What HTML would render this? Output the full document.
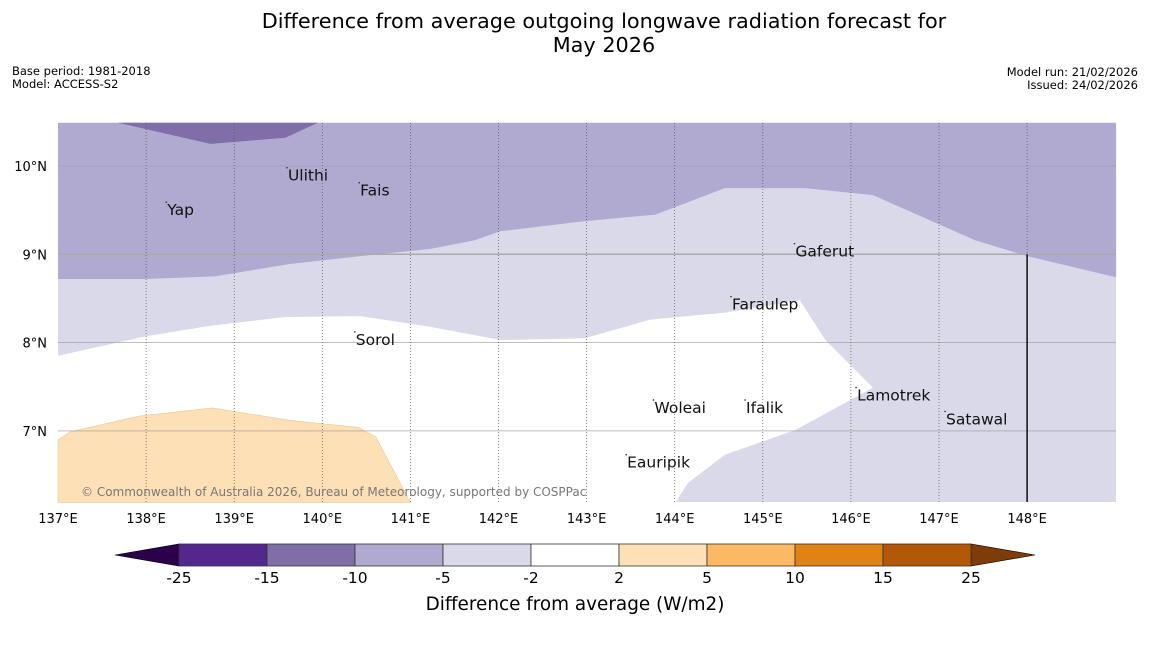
<!DOCTYPE html>
<html><head><meta charset="utf-8"><style>
body{margin:0;background:#fff;font-family:"Liberation Sans","DejaVu Sans",sans-serif}
</style></head><body>
<svg width="1150" height="644" xmlns="http://www.w3.org/2000/svg" font-family="DejaVu Sans, Liberation Sans, sans-serif">
<text x="604" y="28" font-size="20.8" text-anchor="middle">Difference from average outgoing longwave radiation forecast for</text>
<text x="604" y="52" font-size="20.8" text-anchor="middle">May 2026</text>
<text x="12" y="75" font-size="11.5">Base period: 1981-2018</text>
<text x="12" y="88" font-size="11.5">Model: ACCESS-S2</text>
<text x="1138" y="76" font-size="11.5" text-anchor="end">Model run: 21/02/2026</text>
<text x="1138" y="89" font-size="11.5" text-anchor="end">Issued: 24/02/2026</text>
<g id="map"></g>
<g id="cbar"></g>
<text x="575" y="610" font-size="18.4" text-anchor="middle">Difference from average (W/m2)</text>
</svg>
<script>
const lonTicks=[137,138,139,140,141,142,143,144,145,146,147,148];
const latTicks=[7,8,9,10];
const darkPurple=[[137.68,10.49],[138.73,10.25],[139.58,10.32],[139.95,10.49]];
const midPurpleEdge=[[137,8.72],[137.99,8.72],[138.78,8.75],[139.63,8.89],[140.43,8.98],[141.22,9.06],[141.73,9.16],[142.02,9.26],[142.93,9.37],[143.78,9.45],[144.57,9.75],[145.48,9.75],[146.25,9.67],[147.41,9.16],[148.0,8.98],[149.01,8.74]];
const whiteArea=[[137,7.85],[137.99,8.07],[138.73,8.19],[139.58,8.29],[140.43,8.30],[141.22,8.18],[142.02,8.03],[142.98,8.05],[143.72,8.26],[144.57,8.34],[145.31,8.46],[145.42,8.48],[145.71,8.03],[146.25,7.49],[145.37,7.01],[144.57,6.73],[144.15,6.41],[144.01,6.19],[137,6.19]];
const orangeArea=[[137,6.90],[137.14,6.99],[137.93,7.17],[138.75,7.26],[139.63,7.12],[140.41,7.04],[140.61,6.93],[141.0,6.19],[137,6.19]];
const places=[["Ulithi",139.61,9.89],["Fais",140.43,9.72],["Yap",138.24,9.5],["Gaferut",145.37,9.03],["Faraulep",144.65,8.43],["Sorol",140.38,8.03],["Lamotrek",146.07,7.4],["Woleai",143.77,7.26],["Ifalik",144.81,7.26],["Satawal",147.08,7.13],["Eauripik",143.46,6.64]];
const cbLevels=["-25","-15","-10","-5","-2","2","5","10","15","25"];
const cbColors=["#54278f","#7f6ea8","#b0a9d0","#d9d9ea","#ffffff","#fee0b6","#fdb863","#e08214","#b35806"];
const NS="http://www.w3.org/2000/svg";
const X0=58,X1=1116,Y0=123,Y1=502;
const px=l=>58+(l-137)*88.1, py=a=>166+(10-a)*88.3;
function el(t,attrs,parent){const e=document.createElementNS(NS,t);for(const k in attrs)e.setAttribute(k,attrs[k]);parent.appendChild(e);return e;}
const map=document.getElementById('map');
const pts=a=>a.map(p=>px(p[0]).toFixed(1)+','+py(p[1]).toFixed(1)).join(' ');
let r=el('rect',{x:X0,y:Y0,width:X1-X0,height:Y1-Y0,fill:'#d9d9ea'},map);

let mp=el('polygon',{points:pts([[137,10.49]].concat(midPurpleEdge,[[149.01,10.49]])),fill:'#b0a9d0'},map);

let dp=el('polygon',{points:pts(darkPurple),fill:'#7f6ea8'},map);

let wp=el('polygon',{points:pts(whiteArea),fill:'#fff'},map);

let op=el('polygon',{points:pts(orangeArea),fill:'#fee0b6',stroke:'#e8c89a','stroke-width':0.6},map);

latTicks.forEach(a=>{
 let l=el('line',{x1:X0,x2:X1,y1:py(a),y2:py(a),stroke:a==9?'#aaa':'#999','stroke-width':a==9?1.5:0.6},map);
 
 let t=el('text',{x:47,y:py(a)+5,'font-size':13,'text-anchor':'end'},map);t.textContent=a+'°N';
 
});
lonTicks.forEach(l=>{
 if(l>137){let g=el('line',{x1:px(l),x2:px(l),y1:Y0,y2:Y1,stroke:'#555','stroke-width':0.7,'stroke-dasharray':'1,2'},map);
 }
 let t=el('text',{x:px(l),y:523,'font-size':13,'text-anchor':'middle'},map);t.textContent=l+'°E';
 
});
let vl=el('line',{x1:px(148),x2:px(148),y1:py(9),y2:Y1,stroke:'#111','stroke-width':1.5},map);

places.forEach(p=>{
 let t=el('text',{x:px(p[1]),y:py(p[2])+5,'font-size':15.5,fill:'#111'},map);t.textContent=p[0];
 
 let d=el('circle',{cx:px(p[1])-1,cy:py(p[2])-8,r:0.8,fill:'#333'},map);
 
});
let cp=el('text',{x:81,y:496,'font-size':12,fill:'#777'},map);cp.textContent='© Commonwealth of Australia 2026, Bureau of Meteorology, supported by COSPPac';

const cb=document.getElementById('cbar');
const cx=i=>179+i*88, CY0=544, CY1=566;
let la=el('polygon',{points:`115,555 ${cx(0)},${CY0} ${cx(0)},${CY1}`,fill:'#2d004b',stroke:'#000','stroke-width':0.6},cb);

let ra=el('polygon',{points:`1035,555 ${cx(9)},${CY0} ${cx(9)},${CY1}`,fill:'#7f3b08',stroke:'#000','stroke-width':0.6},cb);

cbColors.forEach((c,i)=>{let b=el('rect',{x:cx(i),y:CY0,width:88,height:CY1-CY0,fill:c,stroke:'#333','stroke-width':0.8},cb);
 });
cbLevels.forEach((v,i)=>{let t=el('text',{x:cx(i),y:583,'font-size':15.5,'text-anchor':'middle'},cb);t.textContent=v;
 });
</script>
</body></html>
